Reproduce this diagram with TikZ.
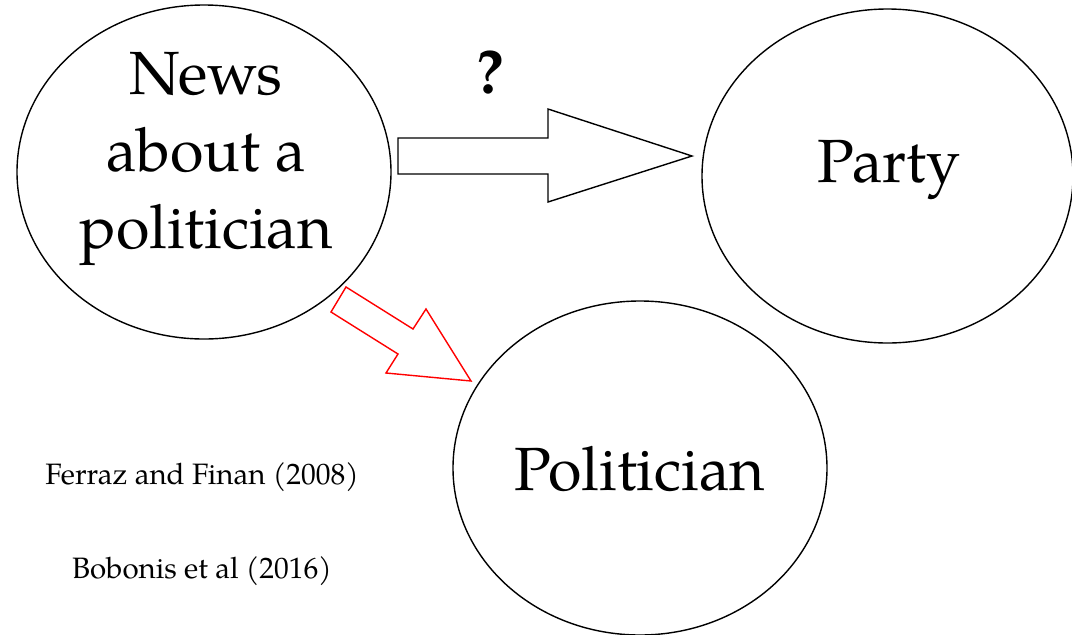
\documentclass[tikz,border=0pt]{standalone}
\usepackage{fontspec}
\setmainfont{TeX Gyre Pagella}
\usetikzlibrary{shapes.geometric}
\begin{document}
\begin{tikzpicture}[x=1pt,y=-1pt,
  circ/.style={draw=black, line width=1.4pt, ellipse, inner sep=0pt},
  bigtext/.style={font=\fontsize{61}{77}\selectfont, align=center, inner sep=0pt},
  citetext/.style={font=\fontsize{29.5}{33}\selectfont, inner sep=0pt, anchor=base},
  blockarrow/.style={draw=black, line width=1.4pt, line join=miter, fill=white},
  redarrow/.style={draw=red, line width=1.4pt, line join=miter, fill=white}]
  \useasboundingbox (0,0) rectangle (1072,635);

  % the three actors
  \node[circ, minimum width=374pt, minimum height=334pt] (news) at (204,172) {};
  \node[circ, minimum width=371pt, minimum height=334pt] (party) at (887.5,176) {};
  \node[circ, minimum width=374pt, minimum height=334pt] (pol) at (640,468) {};

  \node[bigtext] (newslabel) at (206,159) {News\\about a\\politician};
  \node[bigtext, anchor=base] (partylabel) at (889,182) {Party};
  \node[bigtext, anchor=base] (pollabel) at (640,490) {Politician};

  % block arrow: news -> party (uncertain link)
  \draw[blockarrow] (398,138) -- (548,138) -- (548,109) -- (692,156)
    -- (548,202) -- (548,174) -- (398,174) -- cycle;
  \node[font=\fontsize{62}{70}\selectfont\bfseries, anchor=base, inner sep=0pt] (qmark) at (490,93) {?};

  % block arrow: news -> politician
  \draw[redarrow] (346,287) -- (413,329) -- (426,309) -- (471,381)
    -- (386,373) -- (398,354) -- (331,312) -- cycle;

  % references
  \node[citetext] (ref1) at (202,484) {Ferraz and Finan (2008)};
  \node[citetext] (ref2) at (202,578) {Bobonis et al (2016)};
\end{tikzpicture}
\end{document}
